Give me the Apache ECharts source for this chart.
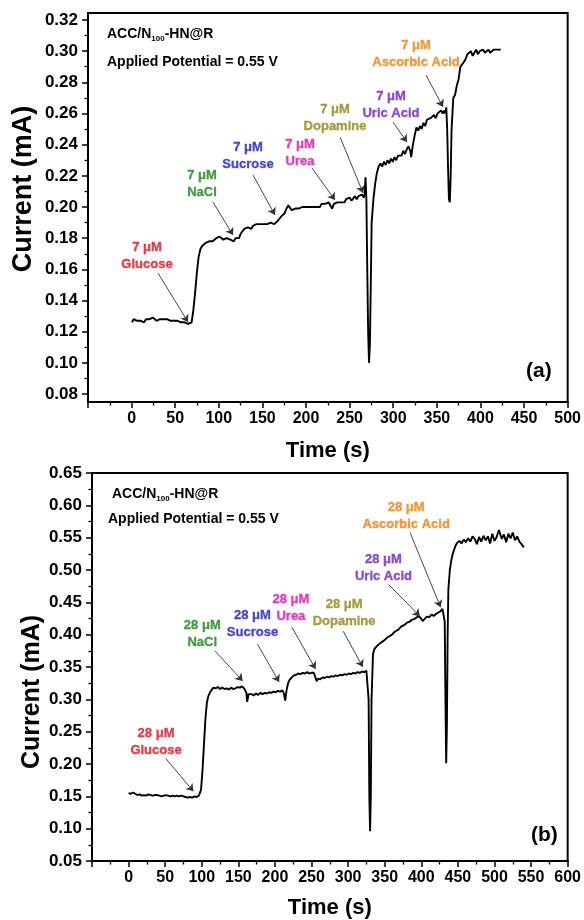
<!DOCTYPE html>
<html><head><meta charset="utf-8">
<script src="https://cdn.jsdelivr.net/npm/echarts@6/dist/echarts.min.js"></script>
<style>html,body{margin:0;padding:0;background:#fff}#c{width:584px;height:920px}</style>
</head><body><div id="c"></div>
<script>
// ---------- Panel (a) data: 7 µM additions ----------
const timeA = [0,2,4,6,8,10,12,14,16,18,20,22,24,26,28,30,32,34,36,38,40,42,44,46,48,50,52,54,56,58,60,62,64,66,68,70,72,74,76,78,80,82,84,86,88,90,92,94,96,98,100,102,104,106,108,110,112,114,116,118,120,122,124,126,128,130,132,134,136,138,140,142,144,146,148,150,152,154,156,158,160,162,164,166,168,170,172,174,176,178,180,182,184,186,188,190,192,194,196,198,200,202,204,206,208,210,212,214,216,218,220,222,224,226,228,230,232,234,236,238,240,242,244,246,248,250,252,254,256,258,260,262,264,265,266,267,268,269,270,271,272,273,275,277,279,281,283,285,287,289,291,293,295,297,299,301,303,305,307,309,311,313,315,317,318,320,322,324,326,328,330,332,334,336,338,340,342,344,346,348,350,352,354,356,357,358,359,360,361,362,363,364,366,368,370,372,374,376,378,380,382,384,386,388,390,392,394,396,398,400,402,404,406,408,410,412,414,416,418,420];
const currentA = [0.126,0.128,0.127,0.127,0.126,0.127,0.127,0.126,0.128,0.127,0.128,0.127,0.129,0.128,0.127,0.128,0.128,0.127,0.128,0.127,0.128,0.127,0.127,0.126,0.127,0.126,0.127,0.126,0.126,0.125,0.126,0.125,0.125,0.126,0.126,0.134,0.145,0.158,0.168,0.173,0.175,0.176,0.177,0.178,0.178,0.179,0.178,0.179,0.180,0.180,0.181,0.180,0.179,0.180,0.180,0.179,0.179,0.180,0.178,0.180,0.181,0.180,0.183,0.184,0.186,0.185,0.187,0.188,0.186,0.188,0.187,0.189,0.188,0.189,0.188,0.189,0.190,0.189,0.190,0.190,0.191,0.189,0.188,0.191,0.192,0.194,0.195,0.196,0.199,0.201,0.200,0.198,0.197,0.199,0.198,0.199,0.198,0.200,0.199,0.200,0.199,0.200,0.201,0.200,0.201,0.200,0.201,0.200,0.202,0.201,0.202,0.201,0.203,0.201,0.199,0.202,0.201,0.203,0.202,0.203,0.204,0.203,0.205,0.204,0.206,0.204,0.205,0.207,0.205,0.207,0.206,0.208,0.206,0.208,0.219,0.205,0.160,0.120,0.100,0.112,0.150,0.190,0.205,0.215,0.222,0.226,0.228,0.226,0.229,0.227,0.230,0.228,0.231,0.229,0.232,0.230,0.233,0.234,0.233,0.236,0.234,0.237,0.239,0.236,0.232,0.240,0.246,0.251,0.249,0.252,0.250,0.254,0.252,0.256,0.255,0.257,0.256,0.259,0.257,0.260,0.259,0.262,0.260,0.262,0.260,0.264,0.250,0.225,0.205,0.203,0.220,0.250,0.270,0.272,0.278,0.282,0.290,0.291,0.293,0.295,0.298,0.297,0.300,0.297,0.299,0.301,0.298,0.300,0.299,0.301,0.299,0.300,0.301,0.299,0.300,0.301,0.300,0.301,0.300,0.301];

// ---------- Panel (b) data: 28 µM additions ----------
const timeB = [0,3,6,9,12,15,18,21,24,27,30,33,36,39,42,45,48,51,54,57,60,63,66,69,72,75,78,81,84,87,90,93,96,99,101,103,105,107,109,111,113,116,119,122,125,128,131,134,137,140,143,146,149,152,155,158,160,161,162,164,166,168,171,174,177,180,183,186,189,192,195,198,201,204,207,210,212,214,216,218,220,223,226,229,232,235,238,241,244,247,250,253,255,257,259,262,265,268,271,274,277,280,283,286,289,292,295,298,301,304,307,310,313,316,319,322,325,327,328,329,330,331,332,334,336,339,342,345,348,351,354,357,360,363,366,369,372,375,378,381,384,387,390,393,396,399,402,405,408,411,414,417,420,423,426,429,431,432,433,434,435,436,437,439,441,443,445,447,449,452,455,458,461,464,467,470,473,476,479,482,485,488,491,494,497,500,503,506,508,510,513,516,519,522,525,528,531,534,537,540];
const currentB = [0.155,0.154,0.156,0.154,0.152,0.153,0.151,0.152,0.151,0.153,0.152,0.151,0.152,0.152,0.151,0.150,0.151,0.152,0.151,0.150,0.151,0.150,0.151,0.150,0.151,0.150,0.149,0.148,0.149,0.148,0.150,0.149,0.151,0.160,0.190,0.230,0.270,0.295,0.305,0.310,0.314,0.318,0.317,0.319,0.316,0.318,0.316,0.317,0.315,0.318,0.316,0.317,0.319,0.318,0.320,0.317,0.316,0.310,0.296,0.308,0.305,0.308,0.306,0.309,0.307,0.310,0.308,0.310,0.309,0.311,0.310,0.312,0.311,0.313,0.312,0.314,0.310,0.298,0.315,0.325,0.330,0.334,0.337,0.338,0.340,0.339,0.341,0.340,0.342,0.340,0.341,0.341,0.335,0.328,0.332,0.331,0.334,0.333,0.335,0.334,0.336,0.335,0.337,0.336,0.338,0.337,0.339,0.338,0.340,0.339,0.341,0.340,0.342,0.341,0.343,0.342,0.344,0.345,0.300,0.150,0.096,0.150,0.300,0.370,0.378,0.382,0.385,0.388,0.390,0.393,0.396,0.398,0.400,0.404,0.406,0.408,0.412,0.414,0.416,0.419,0.420,0.423,0.424,0.426,0.429,0.426,0.421,0.425,0.428,0.427,0.431,0.429,0.432,0.434,0.436,0.440,0.442,0.420,0.300,0.201,0.260,0.400,0.470,0.500,0.515,0.525,0.532,0.538,0.542,0.545,0.541,0.547,0.543,0.549,0.544,0.552,0.548,0.540,0.551,0.544,0.553,0.546,0.552,0.541,0.556,0.545,0.551,0.562,0.565,0.548,0.555,0.543,0.556,0.549,0.558,0.546,0.552,0.544,0.540,0.535];

// ---------- Annotations (data coordinates) ----------
const analytes = ['Glucose','NaCl','Sucrose','Urea','Dopamine','Uric Acid','Ascorbic Acid'];
const analyteColors = ['#e3101f','#1d861d','#1a1ad2','#e010ad','#8f8816','#7122d2','#f5800f'];
const concA = '7 μM', concB = '28 μM';
const labelTA = [17.2, 79.8, 132.2, 191.4, 231.3, 295.0, 323.5];
const labelVA = [0.1689, 0.2151, 0.2327, 0.2350, 0.2571, 0.2655, 0.2982];
const arrowFromTA = [29.7, 92.3, 137.9, 205.1, 237.0, 297.3, 334.9];
const arrowFromVA = [0.1576, 0.2032, 0.2205, 0.2250, 0.2449, 0.2545, 0.2847];
const arrowToTA = [63.9, 115.1, 162.9, 231.2, 263.2, 313.2, 354.2];
const arrowToVA = [0.1262, 0.1820, 0.1949, 0.2045, 0.2090, 0.2417, 0.2642];
const labelTB = [37.5, 100.7, 169.3, 221.8, 294.5, 348.3, 379.3];
const labelVB = [0.2346, 0.4008, 0.4162, 0.4415, 0.4331, 0.5031, 0.5838];
const arrowFromTB = [50.9, 118.2, 176.1, 223.2, 293.2, 355.1, 384.7];
const arrowFromVB = [0.2085, 0.3746, 0.3854, 0.4115, 0.4054, 0.4777, 0.5577];
const arrowToTB = [88.6, 155.9, 205.7, 255.5, 320.1, 398.1, 426.4];
const arrowToVB = [0.1577, 0.3285, 0.3269, 0.3469, 0.3500, 0.4285, 0.4423];

// ---------- Axis settings ----------
const xTicksA = {min: -50, max: 500, interval: 50};
const yTicksA = {min: 0.08, max: 0.32, interval: 0.02};
const xTicksB = {min: -50, max: 600, interval: 50};
const yTicksB = {min: 0.05, max: 0.65, interval: 0.05};

const FONT = '"Liberation Sans", Arial, sans-serif';
const zip = (a, b) => a.map((v, i) => [v, b[i]]);

function xAxisStyled(t, gridIndex, nameGap) {
  return {
    type: 'value', gridIndex, min: t.min, max: t.max, interval: t.interval,
    name: 'Time (s)', nameLocation: 'middle', nameGap,
    nameTextStyle: {fontFamily: FONT, fontWeight: 'bold', fontSize: 22, color: '#000'},
    axisLine: {show: true, onZero: false, lineStyle: {color: '#000', width: 2}},
    axisTick: {show: true, inside: false, length: 6, lineStyle: {color: '#000', width: 1.5}},
    minorTick: {show: true, splitNumber: 2, length: 3.5, lineStyle: {color: '#000', width: 1.3}},
    axisLabel: {formatter: v => (v < 0 ? '' : String(v)), fontFamily: FONT, fontWeight: 'bold', fontSize: 16, color: '#000', margin: 9},
    splitLine: {show: false}
  };
}
function yAxisStyled(t, gridIndex, nameGap, nameSize, namePad, lineShow) {
  return {
    type: 'value', gridIndex, min: t.min, max: t.max, interval: t.interval,
    name: 'Current (mA)', nameLocation: 'middle', nameGap, nameMoveOverlap: false,
    nameTextStyle: {fontFamily: FONT, fontWeight: 'bold', fontSize: nameSize, color: '#000', padding: namePad},
    axisLine: {show: lineShow, onZero: false, lineStyle: {color: '#000', width: 2}},
    axisTick: {show: true, inside: false, length: 6, lineStyle: {color: '#000', width: 1.5}},
    minorTick: {show: true, splitNumber: 2, length: 3.5, lineStyle: {color: '#000', width: 1.3}},
    axisLabel: {formatter: v => v.toFixed(2), fontFamily: FONT, fontWeight: 'bold', fontSize: 17, color: '#000', margin: 10},
    splitLine: {show: false}
  };
}

function labelSeries(conc, ts, vs, xi, yi) {
  return {
    type: 'scatter', xAxisIndex: xi, yAxisIndex: yi, symbolSize: 0, silent: true, z: 5,
    data: analytes.map((name, i) => ({
      value: [ts[i], vs[i]],
      label: {show: true, position: 'inside', formatter: conc + '\n' + name,
        color: analyteColors[i], textBorderColor: analyteColors[i], textBorderWidth: 0.35,
        fontFamily: FONT, fontWeight: 'bold', fontSize: 13, lineHeight: 17, align: 'center', verticalAlign: 'middle'}
    }))
  };
}
function arrowLines(ft, fv, tt, tv) {
  return {
    silent: true, symbol: ['none', 'arrow'], symbolSize: 7, animation: false,
    label: {show: false},
    lineStyle: {color: '#333', width: 0.9, type: 'solid'},
    emphasis: {disabled: true},
    data: ft.map((_, i) => [{coord: [ft[i], fv[i]]}, {coord: [tt[i], tv[i]]}])
  };
}

const titleRich = {
  b: {fontFamily: FONT, fontWeight: 'bold', fontSize: 14, fill: '#000'},
  s: {fontFamily: FONT, fontWeight: 'bold', fontSize: 8, fill: '#000', padding: [9, 0, 0, 0]}
};
function textBlock(left, top, text) {
  return {type: 'text', left, top, style: {text, rich: titleRich, fill: '#000', font: 'bold 14px ' + FONT}};
}

const chart = echarts.init(document.getElementById('c'), null, {renderer: 'canvas'});
chart.setOption({
  backgroundColor: '#fff',
  animation: false,
  grid: [
    {left: 88, top: 13, width: 483, height: 389, show: true, borderColor: '#000', borderWidth: 2, backgroundColor: 'transparent'},
    {left: 88, top: 20, width: 483, height: 374, show: false},
    {left: 92, top: 473, width: 483, height: 390, show: true, borderColor: '#000', borderWidth: 2, backgroundColor: 'transparent'}
  ],
  xAxis: [
    xAxisStyled(xTicksA, 0, 38),
    {type: 'value', gridIndex: 1, min: xTicksA.min, max: xTicksA.max, show: false},
    xAxisStyled(xTicksB, 2, 36)
  ],
  yAxis: [
    {type: 'value', gridIndex: 0, min: 0, max: 1, show: false},
    yAxisStyled(yTicksA, 1, 51, 27, [0, 0, 0, 36], false),
    yAxisStyled(yTicksB, 2, 47, 25, [0, 50, 0, 0], true)
  ],
  series: [
    {type: 'line', xAxisIndex: 1, yAxisIndex: 1, data: zip(timeA, currentA), showSymbol: false, symbol: 'none',
     lineStyle: {color: '#000', width: 1.9}, z: 3, markLine: arrowLines(arrowFromTA, arrowFromVA, arrowToTA, arrowToVA)},
    labelSeries(concA, labelTA, labelVA, 1, 1),
    {type: 'line', xAxisIndex: 2, yAxisIndex: 2, data: zip(timeB, currentB), showSymbol: false, symbol: 'none',
     lineStyle: {color: '#000', width: 1.9}, z: 3, markLine: arrowLines(arrowFromTB, arrowFromVB, arrowToTB, arrowToVB)},
    labelSeries(concB, labelTB, labelVB, 2, 2)
  ],
  graphic: [
    textBlock(107, 27, '{b|ACC/N}{s|100}{b|-HN@R}'),
    textBlock(107, 55, '{b|Applied Potential = 0.55 V}'),
    textBlock(112, 487, '{b|ACC/N}{s|100}{b|-HN@R}'),
    textBlock(108, 512, '{b|Applied Potential = 0.55 V}'),
    {type: 'text', left: 526, top: 361, style: {text: '(a)', fill: '#000', font: 'bold 21px ' + FONT}},
    {type: 'text', left: 531, top: 825, style: {text: '(b)', fill: '#000', font: 'bold 21px ' + FONT}}
  ]
});
</script>
</body></html>
